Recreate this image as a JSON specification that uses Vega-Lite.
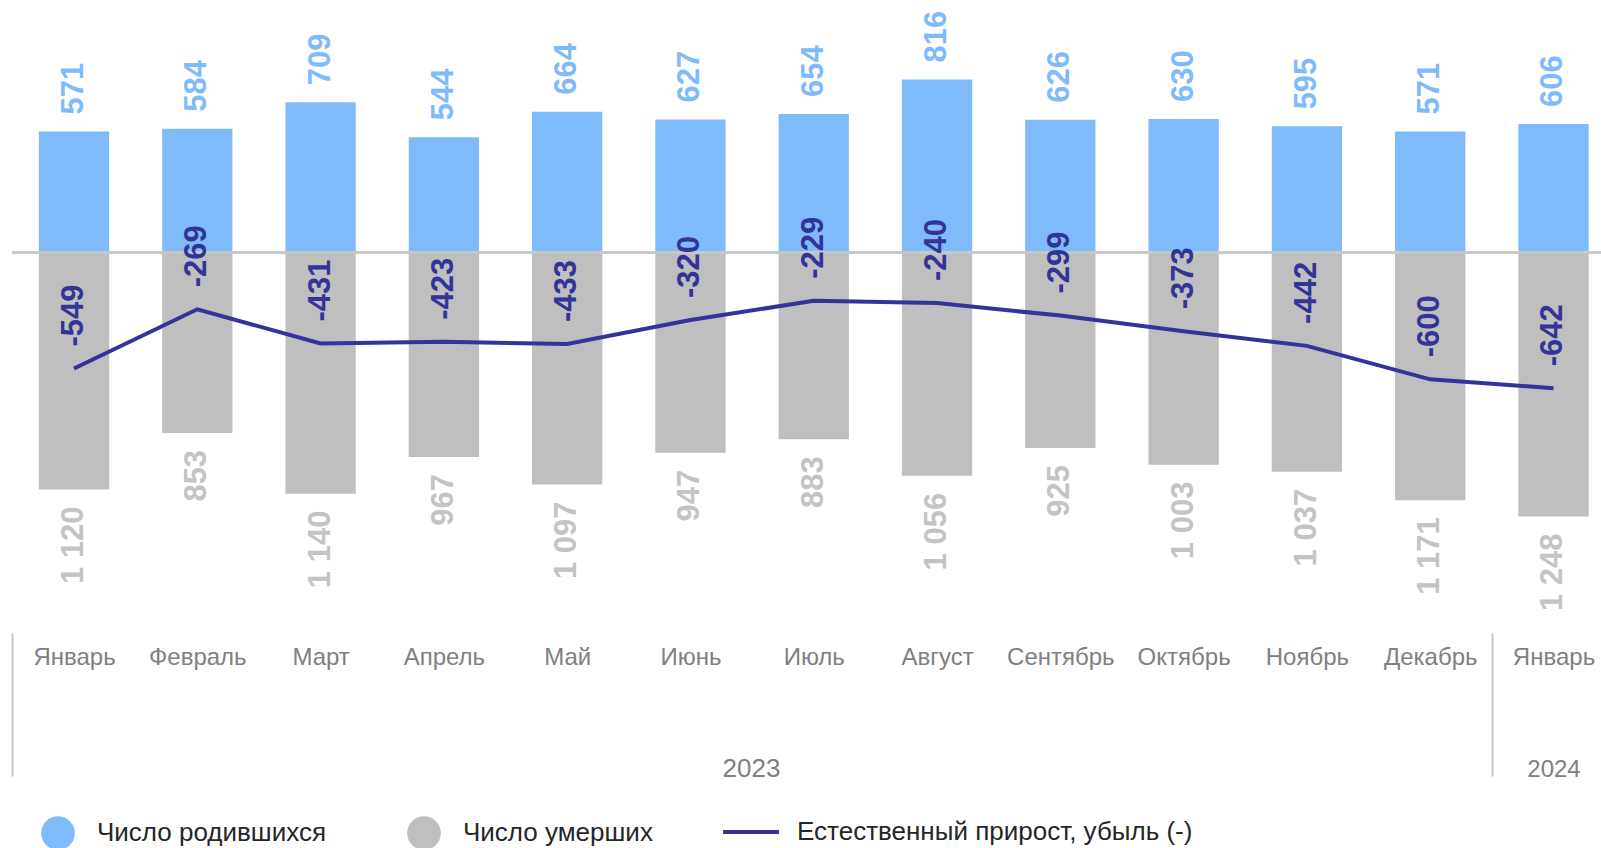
{
  "$schema": "https://vega.github.io/schema/vega-lite/v6.json",
  "width": 1589,
  "height": 620,
  "autosize": {"type": "none"},
  "padding": {"left": 12, "top": 0, "right": 0, "bottom": 228},
  "background": "white",
  "config": {"view": {"stroke": null}, "font": "Liberation Sans"},
  "data": {
    "values": [
      {"m": "Январь 2023", "births": 571, "deaths": -1120, "natural": -549},
      {"m": "Февраль 2023", "births": 584, "deaths": -853, "natural": -269},
      {"m": "Март 2023", "births": 709, "deaths": -1140, "natural": -431},
      {"m": "Апрель 2023", "births": 544, "deaths": -967, "natural": -423},
      {"m": "Май 2023", "births": 664, "deaths": -1097, "natural": -433},
      {"m": "Июнь 2023", "births": 627, "deaths": -947, "natural": -320},
      {"m": "Июль 2023", "births": 654, "deaths": -883, "natural": -229},
      {"m": "Август 2023", "births": 816, "deaths": -1056, "natural": -240},
      {"m": "Сентябрь 2023", "births": 626, "deaths": -925, "natural": -299},
      {"m": "Октябрь 2023", "births": 630, "deaths": -1003, "natural": -373},
      {"m": "Ноябрь 2023", "births": 595, "deaths": -1037, "natural": -442},
      {"m": "Декабрь 2023", "births": 571, "deaths": -1171, "natural": -600},
      {"m": "Январь 2024", "births": 606, "deaths": -1248, "natural": -642}
    ]
  },
  "layer": [
    {
      "mark": {"type": "bar"},
      "encoding": {
        "x": {
          "field": "m", "type": "ordinal", "sort": null,
          "scale": {"paddingInner": 0.4298, "paddingOuter": 0.159, "align": 0.685},
          "axis": {
            "orient": "bottom", "offset": 13, "domain": false,
            "ticks": true, "tickSize": 143, "tickWidth": 2, "tickColor": "#C8C8C8",
            "bandPosition": -0.377, "tickOffset": 0, "tickExtra": false,
            "tickOpacity": {"condition": {"test": "datum.value == 'Январь 2023' || datum.value == 'Январь 2024'", "value": 1}, "value": 0},
            "labelExpr": "datum.value == null ? '' : (datum.value == 'Январь 2024' ? ['Январь', '\u00a0\u00a0\u00a02024'] : split(datum.value, ' ')[0])",
            "labelAngle": 0, "labelPadding": -112, "labelBaseline": "alphabetic", "labelLineHeight": 112,
            "labelFontSize": 24, "labelColor": "#808080", "labelOverlap": false, "labelFont": "Liberation Sans",
            "title": "2023", "titleX": 739, "titleY": 143, "titleAlign": "center", "titleBaseline": "alphabetic",
            "titleFontSize": 26, "titleFontWeight": "normal", "titleColor": "#808080", "titleFont": "Liberation Sans"
          }
        },
        "y": {"field": "births", "type": "quantitative", "scale": {"domain": [-1737, 1192], "nice": false, "zero": false}, "axis": null},
        "fill": {
          "datum": "Число родившихся",
          "scale": {"domain": ["Число родившихся", "Число умерших"], "range": ["#7FBAFB", "#BFBFBF"]},
          "legend": {
            "orient": "none", "legendX": 29, "legendY": 816, "direction": "horizontal",
            "title": null, "symbolType": "circle", "symbolSize": 1134, "symbolStrokeWidth": 0,
            "labelFontSize": 26, "labelColor": "#262626", "labelOffset": 22, "columnPadding": 80,
            "labelLimit": 600, "padding": 0, "labelFont": "Liberation Sans"
          }
        }
      }
    },
    {
      "mark": {"type": "bar"},
      "encoding": {
        "x": {"field": "m", "type": "ordinal", "sort": null},
        "y": {"field": "deaths", "type": "quantitative"},
        "fill": {"datum": "Число умерших"}
      }
    },
    {
      "mark": {"type": "rule", "color": "#C8C8C8", "strokeWidth": 2},
      "encoding": {"y": {"datum": 0, "type": "quantitative"}}
    },
    {
      "mark": {"type": "line", "strokeWidth": 4},
      "encoding": {
        "x": {"field": "m", "type": "ordinal", "sort": null},
        "y": {"field": "natural", "type": "quantitative"},
        "stroke": {
          "datum": "Естественный прирост, убыль (-)",
          "scale": {"domain": ["Естественный прирост, убыль (-)"], "range": ["#333399"]},
          "legend": {
            "orient": "none", "legendX": 709, "legendY": 802, "title": null,
            "symbolType": "stroke", "symbolSize": 3136, "symbolStrokeWidth": 4,
            "labelFontSize": 26, "labelColor": "#262626", "labelOffset": 16, "padding": 0,
            "labelLimit": 800, "labelFont": "Liberation Sans"
          }
        }
      }
    },
    {
      "mark": {"type": "text", "angle": 270, "align": "left", "baseline": "middle", "dx": 17, "fontSize": 31, "fontWeight": "bold", "color": "#7FBAFB"},
      "encoding": {
        "x": {"field": "m", "type": "ordinal", "sort": null},
        "y": {"field": "births", "type": "quantitative"},
        "text": {"field": "births", "type": "quantitative"}
      }
    },
    {
      "mark": {"type": "text", "angle": 270, "align": "right", "baseline": "middle", "dx": -17, "fontSize": 31, "fontWeight": "bold", "color": "#C4C4C4",
        "text": {"expr": "replace(format(-datum.deaths, ',d'), ',', ' ')"}},
      "encoding": {
        "x": {"field": "m", "type": "ordinal", "sort": null},
        "y": {"field": "deaths", "type": "quantitative"}
      }
    },
    {
      "mark": {"type": "text", "angle": 270, "align": "left", "baseline": "middle", "dx": 22, "fontSize": 31, "fontWeight": "bold", "color": "#333399",
        "text": {"expr": "'' + datum.natural"}},
      "encoding": {
        "x": {"field": "m", "type": "ordinal", "sort": null},
        "y": {"field": "natural", "type": "quantitative"}
      }
    }
  ]
}
